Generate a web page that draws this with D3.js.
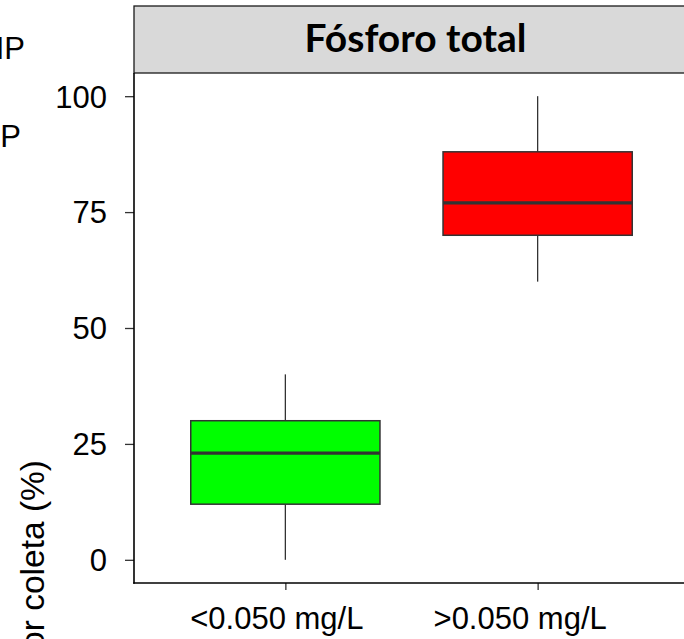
<!DOCTYPE html>
<html>
<head>
<meta charset="utf-8">
<script src="https://cdn.jsdelivr.net/npm/d3@7"></script>
<style>
  html, body { margin: 0; padding: 0; background: #fff; overflow: hidden; }
  svg { display: block; }
</style>
</head>
<body>
<svg id="chart" width="684" height="639"></svg>
<script>
// ---- data ----
const categories = ["<0.050 mg/L", ">0.050 mg/L"];
const boxMin    = [0, 60];
const boxQ1     = [12, 70];
const boxMedian = [23, 77];
const boxQ3     = [30, 88];
const boxMax    = [40, 100];
const boxColors = ["#00FF00", "#FF0000"];
const yTicks = [0, 25, 50, 75, 100];
const stripTitle = "Fósforo total";
const yTitle = "Porcentagem por coleta (%)";
const leftLabels = ["IP", "P"];

const svg = d3.select("#chart");

const panel = { left: 134, right: 689, top: 73, bottom: 583 };
const strip = { top: 6, bottom: 73 };

const x = d3.scalePoint().domain(categories).range([panel.left, panel.right]).padding(0.6);
const step = x.step();
const y = d3.scaleLinear().domain([-5, 105]).range([panel.bottom, panel.top]);

// panel background
svg.append("rect").attr("x", panel.left).attr("y", panel.top)
  .attr("width", panel.right - panel.left).attr("height", panel.bottom - panel.top)
  .attr("fill", "#fff");

// strip
svg.append("rect").attr("x", panel.left).attr("y", strip.top)
  .attr("width", panel.right - panel.left).attr("height", strip.bottom - strip.top)
  .attr("fill", "#D9D9D9").attr("stroke", "#1a1a1a").attr("stroke-width", 1.3);
const st = svg.append("text")
  .attr("x", (panel.left + panel.right) / 2 + 4).attr("y", 52)
  .attr("text-anchor", "middle")
  .attr("font-family", "Lato, 'Open Sans', sans-serif")
  .attr("font-weight", "bold").attr("font-size", 36).attr("fill", "#000")
  .text(stripTitle);
const stw = st.node().getComputedTextLength();
if (stw > 0) st.attr("font-size", 36 * 222 / stw);

// boxes
const data = categories.map((c, i) => ({
  c, min: boxMin[i], q1: boxQ1[i], med: boxMedian[i], q3: boxQ3[i], max: boxMax[i], col: boxColors[i]
}));
const bw = step * 0.75;
const g = svg.append("g");
data.forEach(d => {
  const cx = x(d.c);
  g.append("line").attr("x1", cx).attr("x2", cx).attr("y1", y(d.max)).attr("y2", y(d.q3))
    .attr("stroke", "#333").attr("stroke-width", 1.3);
  g.append("line").attr("x1", cx).attr("x2", cx).attr("y1", y(d.q1)).attr("y2", y(d.min))
    .attr("stroke", "#333").attr("stroke-width", 1.3);
  g.append("rect").attr("x", cx - bw / 2).attr("y", y(d.q3))
    .attr("width", bw).attr("height", y(d.q1) - y(d.q3))
    .attr("fill", d.col).attr("stroke", "#333").attr("stroke-width", 1.5);
  g.append("line").attr("x1", cx - bw / 2).attr("x2", cx + bw / 2)
    .attr("y1", y(d.med)).attr("y2", y(d.med))
    .attr("stroke", "#333").attr("stroke-width", 3.2);
});

// axes
const yAxis = d3.axisLeft(y).tickValues(yTicks).tickSize(9).tickPadding(18);
const ya = svg.append("g").attr("transform", `translate(${panel.left},0)`).call(yAxis);
ya.select(".domain").remove();
ya.selectAll(".tick line").attr("stroke", "#333").attr("stroke-width", 1.3);
ya.selectAll(".tick text").attr("font-family", "Liberation Sans, Arial, sans-serif")
  .attr("font-size", 31).attr("fill", "#000").attr("dy", "0.35em");

const xAxis = d3.axisBottom(x).tickSize(7).tickPadding(0);
const xa = svg.append("g").attr("transform", `translate(0,${panel.bottom})`).call(xAxis);
xa.select(".domain").remove();
xa.selectAll(".tick line").attr("stroke", "#333").attr("stroke-width", 1.3);
xa.selectAll(".tick text").attr("font-family", "Liberation Sans, Arial, sans-serif")
  .attr("font-size", 31).attr("fill", "#000")
  .attr("y", 46).attr("dy", 0).attr("dx", (d, i) => i === 0 ? -9 : -18);

// axis lines (left and bottom)
svg.append("line").attr("x1", panel.left).attr("x2", panel.left)
  .attr("y1", strip.bottom).attr("y2", panel.bottom + 0.75)
  .attr("stroke", "#000").attr("stroke-width", 1.6);
svg.append("line").attr("x1", panel.left - 0.8).attr("x2", panel.right)
  .attr("y1", panel.bottom).attr("y2", panel.bottom)
  .attr("stroke", "#000").attr("stroke-width", 1.6);

// y title (clipped at left edge, as in the reference)
svg.append("text")
  .attr("transform", `translate(44,460) rotate(-90)`)
  .attr("text-anchor", "end")
  .attr("font-family", "Liberation Sans, Arial, sans-serif")
  .attr("font-size", 33.5).attr("fill", "#000")
  .text(yTitle);

// clipped labels at left edge
svg.append("text").attr("x", 25).attr("y", 59).attr("text-anchor", "end")
  .attr("font-family", "Liberation Sans, Arial, sans-serif").attr("font-size", 31)
  .attr("fill", "#000").text(leftLabels[0]);
svg.append("text").attr("x", 21).attr("y", 147).attr("text-anchor", "end")
  .attr("font-family", "Liberation Sans, Arial, sans-serif").attr("font-size", 31)
  .attr("fill", "#000").text(leftLabels[1]);
</script>
</body>
</html>
